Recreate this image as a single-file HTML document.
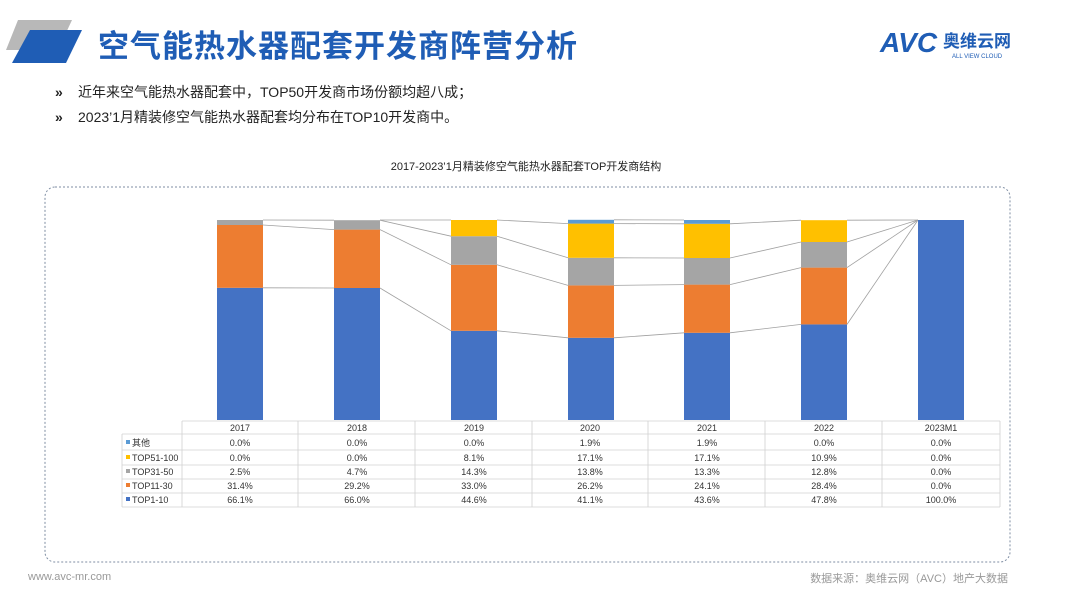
<!DOCTYPE html>
<html><head><meta charset="utf-8"><style>
html,body{margin:0;padding:0;background:#fff;}
body{width:1080px;height:608px;overflow:hidden;position:relative;font-family:"Liberation Sans","Noto Sans CJK SC",sans-serif;}
</style></head><body>
<svg width="1080" height="608" viewBox="0 0 1080 608" xmlns="http://www.w3.org/2000/svg" style="position:absolute;left:0;top:0;font-family:'Liberation Sans','Noto Sans CJK SC',sans-serif;">
<polygon points="18,20 72,20 58,50 6,50" fill="#b8b8b8"/>
<polygon points="30,30 82,30 66,63 12,63" fill="#1f5db5"/>
<text x="98" y="57" font-size="31" font-weight="bold" fill="#1f5db5" letter-spacing="1">空气能热水器配套开发商阵营分析</text>
<text x="880" y="52" font-size="28" font-weight="bold" fill="#1f5db5" font-style="italic">AVC</text>
<text x="943" y="47" font-size="17" font-weight="bold" fill="#1f5db5">奥维云网</text>
<text x="952" y="58" font-size="6" fill="#1f5db5">ALL VIEW CLOUD</text>
<text x="55" y="97" font-size="14" fill="#222" font-weight="bold">»</text>
<text x="78" y="97" font-size="14" fill="#222">近年来空气能热水器配套中，TOP50开发商市场份额均超八成；</text>
<text x="55" y="122" font-size="14" fill="#222" font-weight="bold">»</text>
<text x="78" y="122" font-size="14" fill="#222">2023’1月精装修空气能热水器配套均分布在TOP10开发商中。</text>
<text x="526" y="170" font-size="11" fill="#222" text-anchor="middle">2017-2023’1月精装修空气能热水器配套TOP开发商结构</text>
<rect x="45" y="187" width="965" height="375" rx="10" fill="none" stroke="#7f8ea3" stroke-width="1" stroke-dasharray="2,2"/>
<g stroke="#a0a0a0" stroke-width="0.8" fill="none">
<polyline points="263,287.8 334,288"/><polyline points="263,225 334,229.6"/><polyline points="263,220 334,220.2"/>
<polyline points="380,288 451,330.8"/><polyline points="380,229.6 451,264.8"/><polyline points="380,220.2 451,236.2"/><polyline points="380,220 451,220"/>
<polyline points="497,330.8 568,337.8"/><polyline points="497,264.8 568,285.4"/><polyline points="497,236.2 568,257.8"/><polyline points="497,220 568,223.6"/>
<polyline points="614,337.8 684,332.8"/><polyline points="614,285.4 684,284.6"/><polyline points="614,257.8 684,258"/><polyline points="614,223.6 684,223.8"/><polyline points="614,219.8 684,220"/>
<polyline points="730,332.8 801,324.4"/><polyline points="730,284.6 801,267.6"/><polyline points="730,258 801,242"/><polyline points="730,223.8 801,220.2"/>
<polyline points="847,324.4 918,220"/><polyline points="847,267.6 918,220"/><polyline points="847,242 918,220"/><polyline points="847,220.2 918,220"/>
</g>
<g>
<rect x="217" y="287.8" width="46" height="132.2" fill="#4472c4"/><rect x="217" y="225" width="46" height="62.8" fill="#ed7d31"/><rect x="217" y="220" width="46" height="5" fill="#a5a5a5"/>
<rect x="334" y="288" width="46" height="132" fill="#4472c4"/><rect x="334" y="229.6" width="46" height="58.4" fill="#ed7d31"/><rect x="334" y="220.2" width="46" height="9.4" fill="#a5a5a5"/>
<rect x="451" y="330.8" width="46" height="89.2" fill="#4472c4"/><rect x="451" y="264.8" width="46" height="66" fill="#ed7d31"/><rect x="451" y="236.2" width="46" height="28.6" fill="#a5a5a5"/><rect x="451" y="220" width="46" height="16.2" fill="#ffc000"/>
<rect x="568" y="337.8" width="46" height="82.2" fill="#4472c4"/><rect x="568" y="285.4" width="46" height="52.4" fill="#ed7d31"/><rect x="568" y="257.8" width="46" height="27.6" fill="#a5a5a5"/><rect x="568" y="223.6" width="46" height="34.2" fill="#ffc000"/><rect x="568" y="219.8" width="46" height="3.8" fill="#5b9bd5"/>
<rect x="684" y="332.8" width="46" height="87.2" fill="#4472c4"/><rect x="684" y="284.6" width="46" height="48.2" fill="#ed7d31"/><rect x="684" y="258" width="46" height="26.6" fill="#a5a5a5"/><rect x="684" y="223.8" width="46" height="34.2" fill="#ffc000"/><rect x="684" y="220" width="46" height="3.8" fill="#5b9bd5"/>
<rect x="801" y="324.4" width="46" height="95.6" fill="#4472c4"/><rect x="801" y="267.6" width="46" height="56.8" fill="#ed7d31"/><rect x="801" y="242" width="46" height="25.6" fill="#a5a5a5"/><rect x="801" y="220.2" width="46" height="21.8" fill="#ffc000"/>
<rect x="918" y="220" width="46" height="200" fill="#4472c4"/>
</g>
<g stroke="#d0d0d0" stroke-width="0.8">
<line x1="182" y1="421" x2="1000" y2="421"/>
<line x1="122" y1="434" x2="1000" y2="434"/>
<line x1="122" y1="450" x2="1000" y2="450"/>
<line x1="122" y1="465" x2="1000" y2="465"/>
<line x1="122" y1="479" x2="1000" y2="479"/>
<line x1="122" y1="493" x2="1000" y2="493"/>
<line x1="122" y1="507" x2="1000" y2="507"/>
<line x1="122" y1="434" x2="122" y2="507"/>
<line x1="182" y1="421" x2="182" y2="507"/>
<line x1="298" y1="421" x2="298" y2="507"/>
<line x1="415" y1="421" x2="415" y2="507"/>
<line x1="532" y1="421" x2="532" y2="507"/>
<line x1="648" y1="421" x2="648" y2="507"/>
<line x1="765" y1="421" x2="765" y2="507"/>
<line x1="882" y1="421" x2="882" y2="507"/>
<line x1="1000" y1="421" x2="1000" y2="507"/>
</g>
<g font-size="9" fill="#333" text-anchor="middle">
<text x="240" y="431">2017</text><text x="357" y="431">2018</text><text x="474" y="431">2019</text><text x="590" y="431">2020</text><text x="707" y="431">2021</text><text x="824" y="431">2022</text><text x="941" y="431">2023M1</text>
<text x="240" y="446">0.0%</text><text x="357" y="446">0.0%</text><text x="474" y="446">0.0%</text><text x="590" y="446">1.9%</text><text x="707" y="446">1.9%</text><text x="824" y="446">0.0%</text><text x="941" y="446">0.0%</text>
<text x="240" y="461">0.0%</text><text x="357" y="461">0.0%</text><text x="474" y="461">8.1%</text><text x="590" y="461">17.1%</text><text x="707" y="461">17.1%</text><text x="824" y="461">10.9%</text><text x="941" y="461">0.0%</text>
<text x="240" y="475">2.5%</text><text x="357" y="475">4.7%</text><text x="474" y="475">14.3%</text><text x="590" y="475">13.8%</text><text x="707" y="475">13.3%</text><text x="824" y="475">12.8%</text><text x="941" y="475">0.0%</text>
<text x="240" y="489">31.4%</text><text x="357" y="489">29.2%</text><text x="474" y="489">33.0%</text><text x="590" y="489">26.2%</text><text x="707" y="489">24.1%</text><text x="824" y="489">28.4%</text><text x="941" y="489">0.0%</text>
<text x="240" y="503">66.1%</text><text x="357" y="503">66.0%</text><text x="474" y="503">44.6%</text><text x="590" y="503">41.1%</text><text x="707" y="503">43.6%</text><text x="824" y="503">47.8%</text><text x="941" y="503">100.0%</text>
</g>
<g font-size="9" fill="#333">
<rect x="126" y="440" width="4" height="4" fill="#5b9bd5"/><text x="132" y="446">其他</text>
<rect x="126" y="455" width="4" height="4" fill="#ffc000"/><text x="132" y="461">TOP51-100</text>
<rect x="126" y="469" width="4" height="4" fill="#a5a5a5"/><text x="132" y="475">TOP31-50</text>
<rect x="126" y="483" width="4" height="4" fill="#ed7d31"/><text x="132" y="489">TOP11-30</text>
<rect x="126" y="497" width="4" height="4" fill="#4472c4"/><text x="132" y="503">TOP1-10</text>
</g>
<text x="28" y="580" font-size="11" fill="#999">www.avc-mr.com</text>
<text x="1008" y="582" font-size="11" fill="#999" text-anchor="end">数据来源：奥维云网（AVC）地产大数据</text>
</svg>
</body></html>
